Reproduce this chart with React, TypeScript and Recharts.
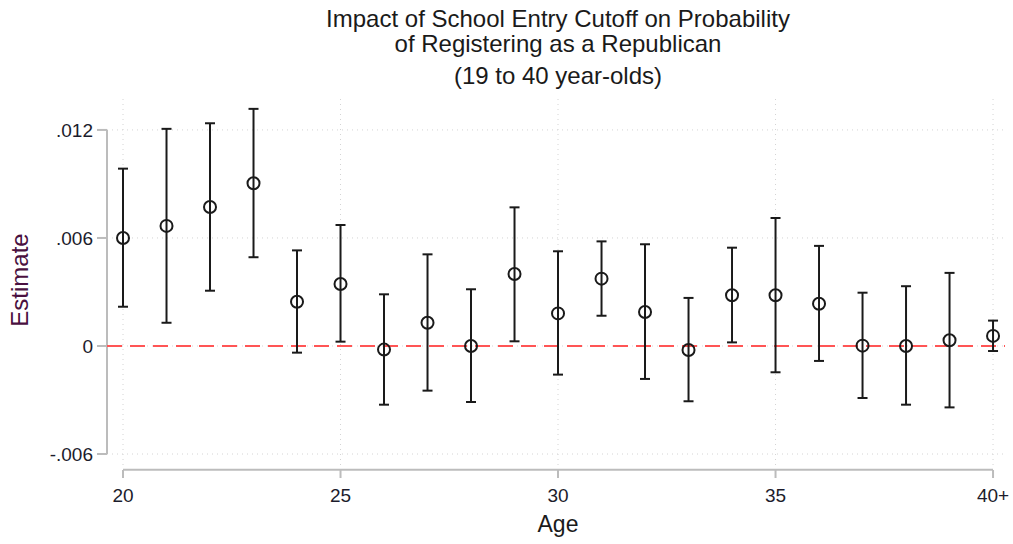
import React from 'react';
import { ComposedChart, Scatter, ErrorBar, XAxis, YAxis, ReferenceLine } from 'recharts';

// point estimates and 95% CI bounds by age (40 = "40+")
const ages = [20, 21, 22, 23, 24, 25, 26, 27, 28, 29, 30, 31, 32, 33, 34, 35, 36, 37, 38, 39, 40];
const estimates = [0.0060, 0.00667, 0.00772, 0.00904, 0.00246, 0.00344, -0.0002, 0.00129, 0.0, 0.0040, 0.00181,
  0.00374, 0.00189, -0.00022, 0.00282, 0.00282, 0.00235, 0.00002, 0.0, 0.00032, 0.00056];
const upper = [0.00985, 0.01206, 0.01237, 0.01317, 0.00531, 0.00672, 0.00287, 0.00509, 0.00315, 0.0077, 0.00526,
  0.00581, 0.00565, 0.00267, 0.00546, 0.00711, 0.00556, 0.00296, 0.00332, 0.00406, 0.00141];
const lower = [0.00218, 0.00129, 0.00307, 0.00493, -0.00037, 0.00024, -0.00326, -0.00248, -0.00311, 0.00026, -0.00159,
  0.00168, -0.00183, -0.00307, 0.0002, -0.00146, -0.00083, -0.00289, -0.00326, -0.00341, -0.00028];

const xTicks = [20, 25, 30, 35, 40];
const xTickLabels = ['20', '25', '30', '35', '40+'];
const yTicks = [-0.006, 0, 0.006, 0.012];

const X_DOMAIN: [number, number] = [19.632, 40.275];
const Y_DOMAIN: [number, number] = [-0.00661, 0.01394];

const data = ages.map((age, i) => ({
  age,
  est: estimates[i],
  ci: [estimates[i] - lower[i], upper[i] - estimates[i]],
}));

const FONT = '"Liberation Sans", Arial, sans-serif';
const AXIS_GRAY = '#bcbcbc';
const GRID = '#d4d4d4';
const TICK_COLOR = '#1c1c2c';

const fmtY = (v: number) => {
  if (v === 0) return '0';
  const s = Math.abs(v).toFixed(3).replace(/^0/, '');
  return v < 0 ? '-' + s : s;
};

const XTick = (props: any) => {
  const { x, y, payload } = props;
  const idx = xTicks.indexOf(payload.value);
  return (
    <g>
      <line x1={x} x2={x} y1={y + 5} y2={y + 13} stroke={AXIS_GRAY} strokeWidth={2} />
      <text x={x} y={y + 37} textAnchor="middle" fill={TICK_COLOR} fontSize={19} fontFamily={FONT}>
        {idx >= 0 ? xTickLabels[idx] : payload.value}
      </text>
    </g>
  );
};

const HollowCircle = (props: any) => (
  <circle cx={props.cx} cy={props.cy} r={6} fill="none" stroke="#1a1a1a" strokeWidth={2} />
);

const titleStyle: React.CSSProperties = {
  position: 'absolute', left: 0, width: 1116, textAlign: 'center', fontSize: 24, lineHeight: '24px', color: '#1a1a1a',
};

const App: React.FC = () => {
  return (
    <div style={{ position: 'absolute', left: 0, top: 0, width: 1013, height: 544, background: '#fff', fontFamily: FONT }}>
      <div style={{ ...titleStyle, top: 7 }}>Impact of School Entry Cutoff on Probability</div>
      <div style={{ ...titleStyle, top: 32 }}>of Registering as a Republican</div>
      <div style={{ ...titleStyle, top: 64 }}>(19 to 40 year-olds)</div>
      <div style={{ position: 'absolute', left: 558 - 50, width: 100, top: 510, lineHeight: '28px', textAlign: 'center', fontSize: 23, color: '#1a1a1a' }}>
        Age
      </div>
      <div style={{ position: 'absolute', left: 20 - 60, width: 120, top: 280 - 14, lineHeight: '28px', textAlign: 'center', fontSize: 24, color: '#4a1040', transform: 'rotate(-90deg)' }}>
        Estimate
      </div>
      <ComposedChart width={1013} height={544} data={data} margin={{ top: 95, right: 8, left: 0, bottom: 0 }}>
        <XAxis
          dataKey="age"
          type="number"
          domain={X_DOMAIN}
          ticks={xTicks}
          height={79}
          axisLine={false}
          tickLine={false}
          tickSize={0}
          tickMargin={0}
          tick={<XTick />}
          allowDataOverflow
        />
        <YAxis
          type="number"
          domain={Y_DOMAIN}
          ticks={yTicks}
          width={107}
          axisLine={false}
          tickLine={{ stroke: AXIS_GRAY, strokeWidth: 2 }}
          tickSize={10}
          tickMargin={4}
          tickFormatter={fmtY}
          tick={{ fill: TICK_COLOR, fontSize: 19, fontFamily: FONT }}
          allowDataOverflow
        />
        {xTicks.map((t) => (
          <ReferenceLine key={'gx' + t} x={t} stroke={GRID} strokeDasharray="1 4" />
        ))}
        {yTicks.map((t) => (
          <ReferenceLine key={'gy' + t} y={t} stroke={GRID} strokeDasharray="1 4" />
        ))}
        <ReferenceLine
          segment={[{ x: X_DOMAIN[0], y: yTicks[0] }, { x: X_DOMAIN[0], y: yTicks[yTicks.length - 1] }]}
          stroke={AXIS_GRAY}
          strokeWidth={2}
          ifOverflow="visible"
        />
        <ReferenceLine
          segment={[{ x: xTicks[0], y: -0.00688 }, { x: xTicks[xTicks.length - 1], y: -0.00688 }]}
          stroke={AXIS_GRAY}
          strokeWidth={2}
          ifOverflow="visible"
        />
        <ReferenceLine y={0} stroke="#ff5555" strokeWidth={2} strokeDasharray="15 8" />
        <Scatter dataKey="est" shape={<HollowCircle />} isAnimationActive={false}>
          <ErrorBar dataKey="ci" direction="y" width={5} stroke="#1a1a1a" strokeWidth={2} />
        </Scatter>
      </ComposedChart>
    </div>
  );
};

export default App;
